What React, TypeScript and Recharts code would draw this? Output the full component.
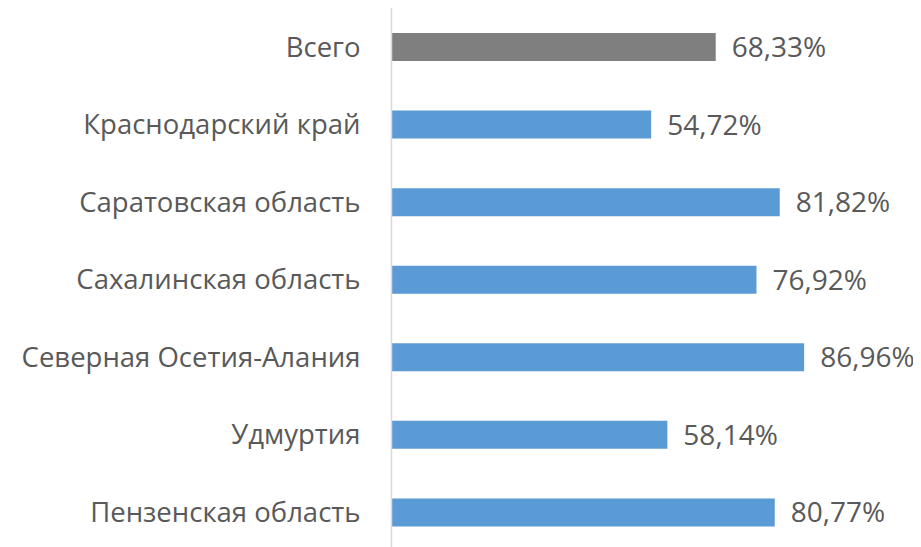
import React from "react";
import { BarChart, Bar, XAxis, YAxis, LabelList, Cell } from "recharts";

// Доля, %
const regions = [
  "Всего",
  "Краснодарский край",
  "Саратовская область",
  "Сахалинская область",
  "Северная Осетия-Алания",
  "Удмуртия",
  "Пензенская область",
];
const shares = [68.33, 54.72, 81.82, 76.92, 86.96, 58.14, 80.77];

const data = regions.map((name, i) => ({ name, value: shares[i] }));

const FONT = "'Open Sans', Lato, sans-serif";
const textColor = "#595959";

const fmtPct = (v: any) => Number(v).toFixed(2).replace(".", ",") + "%";

export default function App() {
  return (
    <BarChart
      width={913}
      height={543}
      data={data}
      layout="vertical"
      margin={{ top: 0, right: 55, bottom: 0, left: 0 }}
      style={{ fontFamily: FONT }}
    >
      <XAxis type="number" domain={[0, 100]} hide />
      <YAxis
        type="category"
        dataKey="name"
        width={383.5}
        tickLine={false}
        tickSize={0}
        tickMargin={31}
        axisLine={{ stroke: "#d9d9d9", strokeWidth: 1.5 }}
        tick={{ fill: textColor, fontSize: 27.5, fontFamily: FONT }}
        interval={0}
      />
      <Bar dataKey="value" barSize={28} isAnimationActive={false}>
        {data.map((d, i) => (
          <Cell key={i} fill={i === 0 ? "#7f7f7f" : "#5b9bd5"} />
        ))}
        <LabelList
          dataKey="value"
          position="right"
          offset={16}
          formatter={fmtPct}
          style={{ fill: textColor, fontSize: 28, fontFamily: FONT }}
        />
      </Bar>
    </BarChart>
  );
}
